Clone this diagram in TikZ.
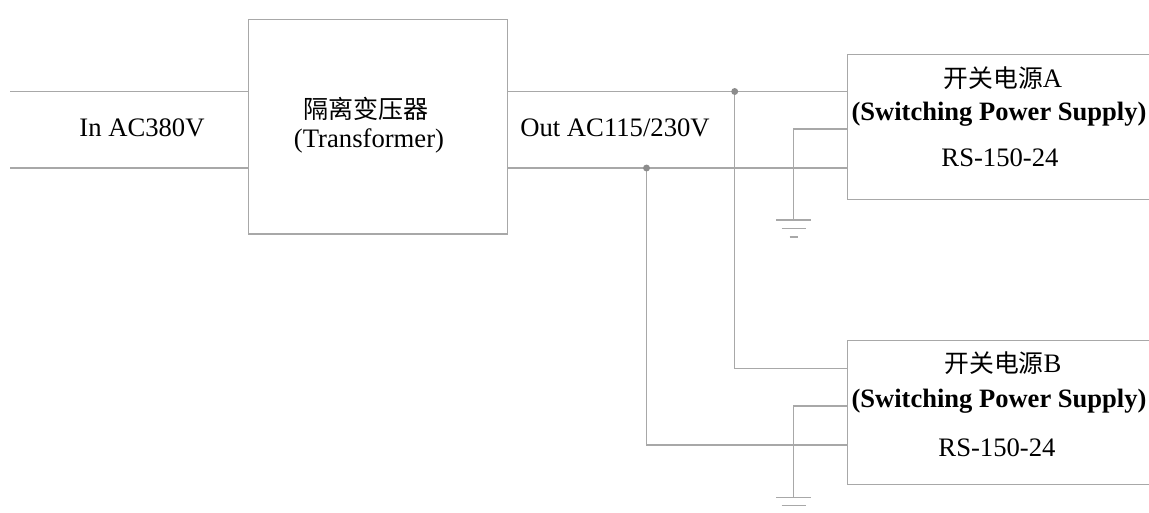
\documentclass[tikz,border=0pt]{standalone}
\usepackage{fontspec}
\setmainfont{Liberation Serif}
\newfontfamily\cjk{Noto Sans CJK SC}
\definecolor{linegray}{HTML}{A8A8A8}
\definecolor{dotgray}{HTML}{8C8C8C}
\tikzset{
  wire/.style={draw=linegray,line width=1pt},
  box/.style={draw=linegray,line width=1pt,rectangle,inner sep=0pt,anchor=north west},
  dotnode/.style={circle,fill=dotgray,draw=none,inner sep=0pt,minimum size=5.2pt},
  lab/.style={anchor=base,inner sep=0pt,text=black,font=\fontsize{20pt}{22pt}\selectfont},
  blab/.style={lab,font=\fontsize{19.9pt}{22pt}\selectfont\bfseries},
  ctlab/.style={lab,font=\fontsize{18.8pt}{22pt}\selectfont\cjk},
}
\newcommand{\psutitle}[1]{{\fontsize{18.6pt}{22pt}\selectfont\cjk 开关电源}{\fontsize{20pt}{22pt}\selectfont\rmfamily #1}}
\begin{document}
\begin{tikzpicture}[x=0.75pt,y=-0.75pt]
\useasboundingbox (0,0) rectangle (1149,512);
\clip (0,0) rectangle (1149,512);
% boxes
\node[box,minimum width=194.25pt,minimum height=160.9pt] (T) at (248,18.7) {};
\node[box,minimum width=240pt,minimum height=108.5pt] (A) at (846.5,54) {};
\node[box,minimum width=240pt,minimum height=108pt] (B) at (846.5,340) {};
% free ends and junctions
\coordinate (in1) at (10,91.5);
\coordinate (in2) at (10,168);
\coordinate (j2) at (646.5,168);
\coordinate (j1) at (734.7,91.5);
\coordinate (gA) at (793.7,220);
\coordinate (gB) at (793.7,497.3);
\coordinate (gA2) at (793.7,228.3);
\coordinate (gA3) at (793.7,237);
\coordinate (gB2) at (793.7,505.5);
% wires
\draw[wire] (in1) -- (in1 -| T.west);
\draw[wire] (in2) -- (in2 -| T.west);
\draw[wire] (in1 -| T.east) -- (j1) -- (in1 -| A.west);
\draw[wire] (in2 -| T.east) -- (j2) -- (in2 -| A.west);
\draw[wire] (j1) |- (734.7,368.7) -- (846.5,368.7);
\draw[wire] (j2) |- (646.5,445) -- (846.5,445);
\draw[wire] (846.5,129) -| (gA);
\draw[wire] (846.5,406) -| (gB);
% junction dots
\node[dotnode] (d2) at (j2) {};
\node[dotnode] (d1) at (j1) {};
% grounds
\draw[wire] (gA) +(-17.5,0) -- +(17.5,0);
\draw[wire] (gA2) +(-12,0) -- +(12,0);
\draw[wire] (gA3) +(-4,0) -- +(4,0);
\draw[wire] (gB) +(-17.5,0) -- +(17.5,0);
\draw[wire] (gB2) +(-12,0) -- +(12,0);
% labels
\node[lab] (inl) at (142,136) {In AC380V};
\node[lab] (outl) at (615,136) {Out AC115/230V};
\node[ctlab] (t1) at (366,118) {隔离变压器};
\node[lab] (t2) at (369,147) {(Transformer)};
\node[lab] (a1) at (1003,87.7) {\psutitle{A}};
\node[blab] (a2) at (999,120) {(Switching Power Supply)};
\node[lab] (a3) at (1000,166.7) {RS-150-24};
\node[lab] (b1) at (1003,372.7) {\psutitle{B}};
\node[blab] (b2) at (999,407) {(Switching Power Supply)};
\node[lab] (b3) at (997,456.7) {RS-150-24};
\end{tikzpicture}
\end{document}
